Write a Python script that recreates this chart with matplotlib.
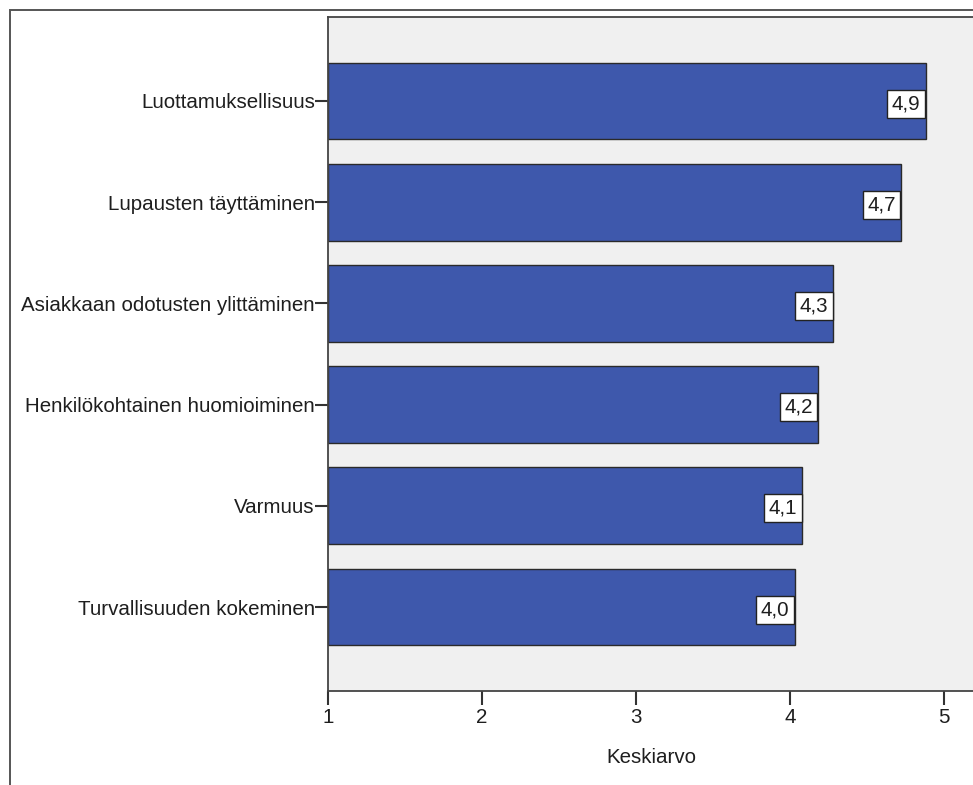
"""Horizontal bar chart of mean scores (Keskiarvo) per service quality item."""

import matplotlib

matplotlib.use("Agg")

from matplotlib import pyplot as plt
from matplotlib.patches import Rectangle

plt.rcParams["font.family"] = ["Liberation Sans", "DejaVu Sans"]

categories = [
    "Luottamuksellisuus",
    "Lupausten täyttäminen",
    "Asiakkaan odotusten ylittäminen",
    "Henkilökohtainen huomioiminen",
    "Varmuus",
    "Turvallisuuden kokeminen",
]
means = [4.88, 4.72, 4.28, 4.18, 4.08, 4.03]
x_ticks = [1, 2, 3, 4, 5]

text_color = "#1e1e1e"
bar_color = "#3e58ac"
plot_bg = "#f0f0f0"
font_size = 14.8

fig = plt.figure(figsize=(9.73, 7.85), dpi=100, facecolor="white")

# outer chart frame, left and top edges only are visible
fig.patches.append(
    Rectangle(
        (9.5 / 973, -0.05), 1.2, 1 - 10 / 785 + 0.05,
        transform=fig.transFigure, fill=False,
        edgecolor="#555555", linewidth=1.4,
    )
)

ax = fig.add_axes([328 / 973, 1 - 691 / 785, 646 / 973, 674 / 785])
ax.set_facecolor(plot_bg)

positions = list(range(len(categories)))
ax.barh(
    positions, [m - 1 for m in means], left=1, height=0.76,
    color=bar_color, edgecolor="#2a2a2a", linewidth=1.0,
)

# value boxes sit flush against the bar end
box_pad = 0.22
for pos, value in zip(positions, means):
    ax.annotate(
        f"{value:.1f}".replace(".", ","),
        xy=(value, pos + 0.025),
        xytext=(-box_pad * font_size * 100 / 72 - 0.5, 0),
        textcoords="offset pixels",
        ha="right", va="center", fontsize=font_size, color=text_color,
        bbox=dict(boxstyle=f"square,pad={box_pad}", facecolor="white",
                  edgecolor="#222222", linewidth=1.0),
    )

ax.set_xlim(1, 1 + 646 / 154)
ax.set_ylim(len(categories) - 1 + 0.83, -0.83)
ax.set_xticks(x_ticks)
ax.set_xticklabels([str(t) for t in x_ticks])
ax.set_yticks(positions)
ax.set_yticklabels(categories)

ax.tick_params(axis="y", length=9.5, width=1.5, pad=0, color="#333333",
               labelsize=font_size, labelcolor=text_color)
ax.tick_params(axis="x", length=10, width=1.5, pad=2, color="#333333",
               labelsize=font_size, labelcolor=text_color)

for side in ("left", "bottom", "top"):
    ax.spines[side].set_color("#444444")
    ax.spines[side].set_linewidth(1.3)
ax.spines["right"].set_visible(False)

ax.set_xlabel("Keskiarvo", fontsize=font_size, color=text_color)
ax.xaxis.set_label_coords(0.5, -0.085)

fig.savefig("out.png", dpi=100, facecolor="white")
